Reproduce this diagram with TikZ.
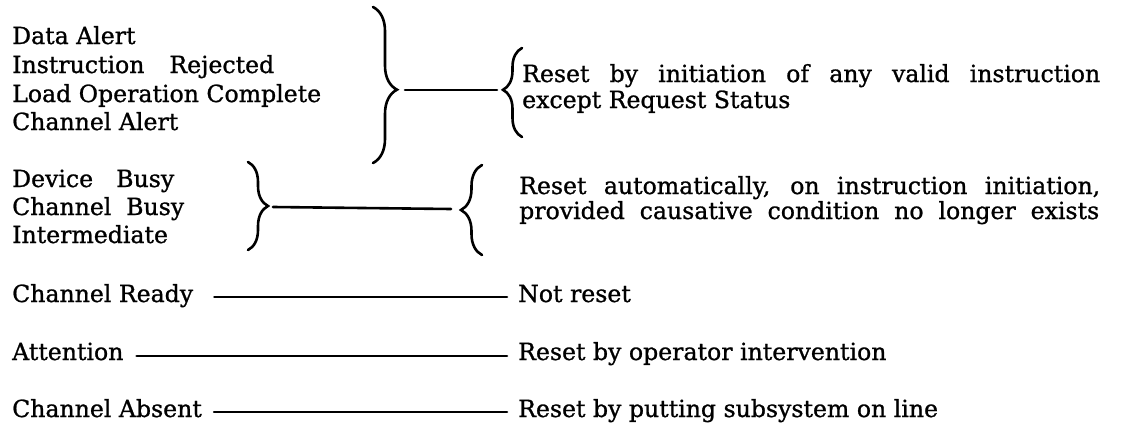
\documentclass[tikz,border=0pt]{standalone}
\usepackage{fontspec}
\setmainfont{DejaVu Serif}[FakeBold=1]
\usetikzlibrary{decorations.pathreplacing}
\tikzset{
  lbl/.style={anchor=base west, inner sep=0pt, font=\fontsize{23.6}{28}\selectfont},
  rule/.style={line width=2.6pt, line cap=round},
  brc/.style={line width=2.6pt, line cap=round, decorate},
}
\begin{document}
\begin{tikzpicture}[x=1pt,y=-1pt]
\useasboundingbox (0,0) rectangle (1122,431);
% left labels
\node[lbl] (da) at (12,44) {Data Alert};
\node[lbl] (ir) at (12,73) {\makebox[262pt][s]{Instruction Rejected}};
\node[lbl] (lo) at (12,102) {Load Operation Complete};
\node[lbl] (ca) at (12,130) {Channel Alert};
\node[lbl] (db) at (12,187) {\makebox[162pt][s]{Device Busy}};
\node[lbl] (cb) at (12,215) {\makebox[172pt][s]{Channel Busy}};
\node[lbl] (im) at (12,243) {Intermediate};
\node[lbl] (cr) at (12,302) {Channel Ready};
\node[lbl] (at) at (12,360) {Attention};
\node[lbl] (cx) at (12,417) {Channel Absent};
% right labels
\node[lbl] (r1a) at (522,82) {\makebox[578pt][s]{Reset by initiation of any valid instruction}};
\node[lbl] (r1b) at (522,108) {except Request Status};
\node[lbl] (r2a) at (519,194) {\makebox[581pt][s]{Reset automatically, on instruction initiation,}};
\node[lbl] (r2b) at (519,219) {\makebox[580pt][s]{provided causative condition no longer exists}};
\node[lbl] (r3) at (518,302) {Not reset};
\node[lbl] (r4) at (518,360) {Reset by operator intervention};
\node[lbl] (r5) at (518,417) {Reset by putting subsystem on line};
% group 1 braces
\draw[brc, decoration={brace, amplitude=24pt, aspect=0.53}] (373,7) -- (373,163);
\coordinate (t1) at (397,90);
\draw[brc, decoration={brace, mirror, amplitude=19pt, aspect=0.47}] (522,48) -- (522,137);
\coordinate (t2) at (503,90);
\draw[rule] ([xshift=8pt]t1) -- ([xshift=-6pt]t2);
% group 2 braces
\draw[brc, decoration={brace, amplitude=20pt, aspect=0.5}] (248,162) -- (248,250);
\coordinate (t3) at (268,207);
\draw[brc, decoration={brace, mirror, amplitude=21pt, aspect=0.5}] (482,165) -- (482,255);
\coordinate (t4) at (461,209);
\draw[rule] ([xshift=5pt]t3) -- ([xshift=-10pt]t4);
% single connectors
\draw[rule] ([xshift=21pt,yshift=5pt]cr.base east) -- ([xshift=-11pt,yshift=5pt]r3.base west);
\draw[rule] ([xshift=13pt,yshift=4pt]at.base east) -- ([xshift=-11pt,yshift=4pt]r4.base west);
\draw[rule] ([xshift=12pt,yshift=5pt]cx.base east) -- ([xshift=-11pt,yshift=5pt]r5.base west);
\end{tikzpicture}
\end{document}
